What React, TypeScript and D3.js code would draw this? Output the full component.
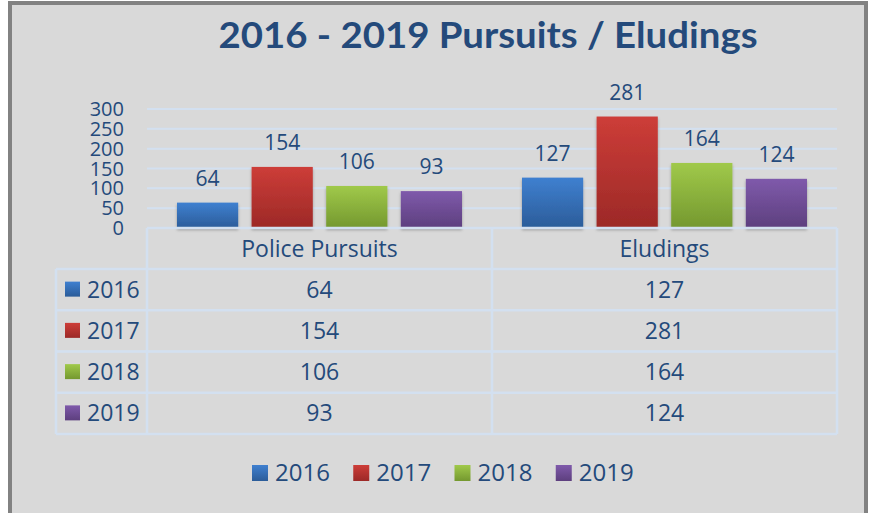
import { useMemo } from "react"
import * as d3 from "d3"

const categories = ["Police Pursuits", "Eludings"]
const years = ["2016", "2017", "2018", "2019"]
const pursuits = [64, 154, 106, 93]
const eludings = [127, 281, 164, 124]
const yTicks = [0, 50, 100, 150, 200, 250, 300]

const W = 872
const H = 513
const TEXT = "#244a7b"
const GRID = "#d3e0f0"
const FONT = "'Open Sans', Lato, sans-serif"

const colors: Record<string, [string, string]> = {
  "2016": ["#3f80d0", "#2b5c99"],
  "2017": ["#cd3d38", "#9c2927"],
  "2018": ["#a0c94a", "#74982f"],
  "2019": ["#7f5aab", "#5d3f7e"],
}

export default function App() {
  const values: Record<string, number[]> = { "Police Pursuits": pursuits, "Eludings": eludings }

  const scales = useMemo(() => {
    const x0 = d3.scaleBand<string>().domain(categories).range([147, 837])
    const x1 = d3.scaleBand<string>().domain(years).range([30, 315]).paddingInner(0.18)
    const y = d3.scaleLinear().domain([0, 300]).range([228, 109])
    const rows = d3.scaleBand<string>().domain(years).range([269, 434])
    const legend = d3.scaleBand<string>().domain(years).range([252, 657])
    return { x0, x1, y, rows, legend }
  }, [])
  const { x0, x1, y, rows, legend } = scales

  const tableTop = y(0)
  const tableBottom = rows.range()[1]

  return (
    <svg width={W} height={H} style={{ position: "absolute", left: 0, top: 0 }} fontFamily={FONT}>
      <defs>
        {years.map(yr => (
          <linearGradient key={yr} id={`g${yr}`} x1="0" y1="0" x2="0" y2="1">
            <stop offset="0" stopColor={colors[yr][0]} />
            <stop offset="1" stopColor={colors[yr][1]} />
          </linearGradient>
        ))}
        <filter id="shadow" x="-10%" y="-10%" width="120%" height="130%">
          <feDropShadow dx="0" dy="2" stdDeviation="1.5" floodColor="#000" floodOpacity="0.3" />
        </filter>
      </defs>

      <rect x={0} y={0} width={W} height={H} fill="#fff" />
      <rect x={10} y={3} width={856} height={512} fill="#d9d9d9" stroke="#828282" strokeWidth={4} />

      <text x={488} y={48} textAnchor="middle" fontSize={36} fontWeight={700} fill={TEXT}
        fontFamily="Lato, 'Open Sans', sans-serif"
        textLength={539} lengthAdjust="spacingAndGlyphs">2016 - 2019 Pursuits / Eludings</text>

      {/* gridlines + y axis */}
      <g>
        {yTicks.map(t => (
          <g key={t}>
            {t > 0 && <line x1={147} x2={837} y1={y(t)} y2={y(t)} stroke={GRID} strokeWidth={2} />}
            <text x={124} y={y(t) + 7} textAnchor="end" fontSize={20} fill={TEXT}>{t}</text>
          </g>
        ))}
      </g>

      {/* bars */}
      <g>
        {categories.map(c => (
          <g key={c} transform={`translate(${x0(c)},0)`}>
            {years.map((yr, i) => {
              const v = values[c][i]
              const bx = x1(yr) as number
              return (
                <g key={yr}>
                  <rect x={bx} y={y(v)} width={x1.bandwidth()} height={y(0) - y(v)}
                    fill={`url(#g${yr})`} filter="url(#shadow)" />
                  <text x={bx + x1.bandwidth() / 2} y={y(v) - 17} textAnchor="middle" fontSize={21} fill={TEXT}>{v}</text>
                </g>
              )
            })}
          </g>
        ))}
      </g>

      {/* data table */}
      <g stroke={GRID} strokeWidth={2.5} fill="none">
        <line x1={147} x2={837} y1={tableTop} y2={tableTop} />
        {years.map(yr => (
          <line key={yr} x1={56} x2={837} y1={rows(yr)} y2={rows(yr)} />
        ))}
        <line x1={56} x2={837} y1={tableBottom} y2={tableBottom} />
        <line x1={56} x2={56} y1={rows.range()[0]} y2={tableBottom} />
        {categories.map(c => (
          <line key={c} x1={x0(c)} x2={x0(c)} y1={tableTop} y2={tableBottom} />
        ))}
        <line x1={837} x2={837} y1={tableTop} y2={tableBottom} />
      </g>
      <g fill={TEXT}>
        {categories.map(c => (
          <text key={c} x={(x0(c) as number) + x0.bandwidth() / 2} y={(tableTop + rows.range()[0]) / 2 + 8}
            textAnchor="middle" fontSize={23}>{c}</text>
        ))}
        {years.map((yr, i) => {
          const cy = (rows(yr) as number) + rows.bandwidth() / 2
          return (
            <g key={yr}>
              <rect x={65} y={cy - 8} width={15} height={15} fill={`url(#g${yr})`} />
              <text x={87} y={cy + 8} fontSize={23}>{yr}</text>
              {categories.map(c => (
                <text key={c} x={(x0(c) as number) + x0.bandwidth() / 2} y={cy + 8} textAnchor="middle" fontSize={23}>
                  {values[c][i]}
                </text>
              ))}
            </g>
          )
        })}
      </g>

      {/* legend */}
      <g fill={TEXT}>
        {years.map(yr => {
          const lx = legend(yr) as number
          return (
            <g key={yr}>
              <rect x={lx} y={465} width={16} height={16} fill={`url(#g${yr})`} />
              <text x={lx + 23} y={481} fontSize={24}>{yr}</text>
            </g>
          )
        })}
      </g>
    </svg>
  )
}
